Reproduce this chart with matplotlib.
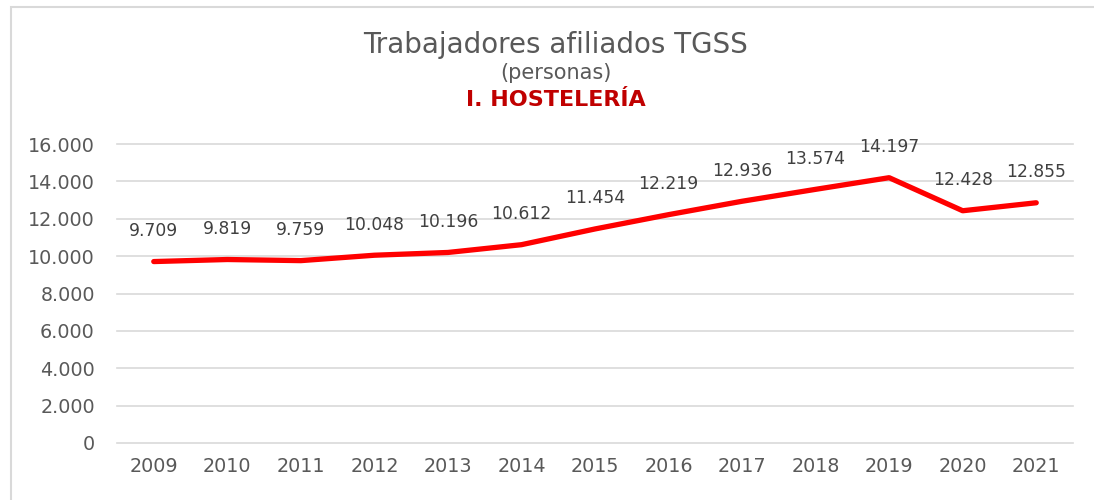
import matplotlib.pyplot as plt
from matplotlib.patches import Rectangle

years = ["2009", "2010", "2011", "2012", "2013", "2014", "2015",
         "2016", "2017", "2018", "2019", "2020", "2021"]
afiliados = [9709, 9819, 9759, 10048, 10196, 10612, 11454,
             12219, 12936, 13574, 14197, 12428, 12855]
yticks = [0, 2000, 4000, 6000, 8000, 10000, 12000, 14000, 16000]


def miles(v):
    return "{:,}".format(v).replace(",", ".")


gray = "#595959"
fig = plt.figure(figsize=(10.94, 5), dpi=100)
fig.patches.append(Rectangle((11 / 1094, -0.1), 1.2, 1.1 - 7 / 500,
                             transform=fig.transFigure, fill=False,
                             edgecolor="#d9d9d9", linewidth=1.5))

ax = fig.add_axes([117 / 1094, 57 / 500, 956 / 1094, 299 / 500])
x = list(range(len(years)))
ax.plot(x, afiliados, color="#ff0000", linewidth=3.8, solid_capstyle="round")
for xi, v in zip(x, afiliados):
    ax.annotate(miles(v), (xi, v), xytext=(0, 22), textcoords="offset points",
                ha="center", va="center", fontsize=12.3, color="#404040")

ax.set_xlim(-0.5, len(years) - 0.5)
ax.set_ylim(0, 16000)
ax.set_yticks(yticks)
ax.set_yticklabels([miles(t) for t in yticks])
ax.set_xticks(x)
ax.set_xticklabels(years)
ax.tick_params(length=0, labelsize=13.8, colors=gray, pad=10)
ax.tick_params(axis="y", pad=16)
ax.grid(axis="y", color="#d9d9d9", linewidth=1.2)
for gl in ax.get_ygridlines():
    gl.set_clip_on(False)
ax.set_axisbelow(True)
for s in ax.spines.values():
    s.set_visible(False)

fig.text(0.508, 1 - 45 / 500, "Trabajadores afiliados TGSS", ha="center",
         va="center", fontsize=20, color=gray)
fig.text(0.508, 1 - 73 / 500, "(personas)", ha="center", va="center",
         fontsize=15, color=gray)
fig.text(0.508, 1 - 100 / 500, "I. HOSTELERÍA", ha="center", va="center",
         fontsize=16, color="#c00000", fontweight="bold")

fig.savefig("out.png", dpi=100)
